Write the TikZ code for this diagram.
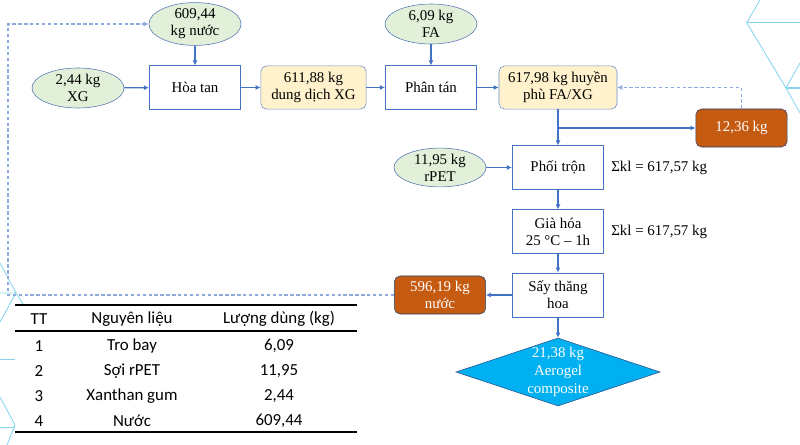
\documentclass[tikz,border=0pt]{standalone}
\usepackage{fontspec}
\setmainfont{Liberation Serif}
\newfontfamily\tablefont{Carlito}
\usetikzlibrary{arrows.meta,shapes.geometric,calc,positioning}
\definecolor{lineblue}{HTML}{4472C4}
\definecolor{dashblue}{HTML}{8FAADC}
\definecolor{greenfill}{HTML}{E2F0D9}
\definecolor{yellowfill}{HTML}{FFF2CC}
\definecolor{wasteorange}{HTML}{C55A11}
\definecolor{productcyan}{HTML}{00B0F0}
\definecolor{decocyan}{HTML}{86D4F0}

\begin{document}
\begin{tikzpicture}[x=0.025cm, y=-0.025cm, font=\fontsize{10.6}{12.2}\selectfont]
    \useasboundingbox (0,0) rectangle (800,445);
    \tikzset{InputStyle/.style = {ellipse, draw=lineblue!75!gray, fill=greenfill,
        minimum width=2.3cm, minimum height=1cm, inner sep=0pt, align=center},
      StepStyle/.style = {rectangle, draw=lineblue, fill=white, line width=0.6pt,
        minimum width=2.28cm, minimum height=1.08cm, inner sep=1pt, align=center},
      MixStyle/.style = {rectangle, rounded corners=4pt, draw=lineblue!80, fill=yellowfill,
        minimum height=1.08cm, inner sep=1pt, align=center},
      WasteStyle/.style = {rectangle, rounded corners=4pt, draw=lineblue!60!black, fill=wasteorange,
        text=white, minimum width=2.28cm, minimum height=0.95cm, inner sep=1pt, align=center},
      ProductStyle/.style = {diamond, draw=lineblue!70!black, fill=productcyan,
        minimum width=5.1cm, minimum height=1.7cm, inner sep=0pt},
      FlowStyle/.style = {draw=lineblue, line width=0.8pt, -{Latex[length=3.6pt,width=3.6pt]}},
      RecycleStyle/.style = {draw=dashblue, line width=0.8pt, dash pattern=on 2.4pt off 1.8pt,
        -{Latex[length=3.6pt,width=3.6pt]}},
      CellStyle/.style = {font=\tablefont\fontsize{12}{14}\selectfont, inner sep=0pt},
      DecoStyle/.style = {draw=decocyan, line width=0.6pt}}
    % background lines of the slide
    \draw[DecoStyle] (760,0) -- (746.7,22.7) -- (786,88) -- (800,113);
    \draw[DecoStyle] (746.7,22.7) -- (800,22.7);
    \draw[DecoStyle] (786,88) -- (800,63);
    \draw[DecoStyle, line width=1pt] (786,88) -- (800,88);
    \draw[DecoStyle] (0,263) -- (16,293) -- (23,304);
    \draw[DecoStyle] (0,293) -- (16,293) -- (0,322);
    \draw[DecoStyle] (0,359) -- (15,359);
    \draw[DecoStyle] (0,397) -- (15,425) -- (7,445);
    \draw[DecoStyle] (0,427) -- (15,427);
    % inputs and steps
    \node[InputStyle] (nuoc) at (195,24) {609,44\\kg nước};
    \node[InputStyle] (xg) at (78,88) {2,44 kg\\XG};
    \node[StepStyle] (hoatan) at (195,87.5) {Hòa tan};
    \node[MixStyle, minimum width=2.63cm] (ddxg) at (313.5,87.5) {611,88 kg\\dung dịch XG};
    \node[InputStyle] (fa) at (431,24) {6,09 kg\\FA};
    \node[StepStyle] (phantan) at (431,87.5) {Phân tán};
    \node[MixStyle, minimum width=2.95cm] (huyenphu) at (558,87.5) {617,98 kg huyền\\phù FA/XG};
    \node[WasteStyle] (hao) at (741.5,128) {12,36 kg};
    \node[InputStyle, minimum height=0.95cm] (rpet) at (440,167.5) {11,95 kg\\rPET};
    \node[StepStyle] (phoitron) at (558,167.5) {Phối trộn};
    \node[StepStyle] (giahoa) at (558,231.5) {Già hóa\\25 °C – 1h};
    \node[StepStyle, minimum height=1.1cm] (saythang) at (558,295) {Sấy thăng\\hoa};
    \node[WasteStyle] (nuocthai) at (440,295) {596,19 kg\\nước};
    \node[ProductStyle, label={[text=white, align=center, font=\fontsize{10.6}{12.6}\selectfont]center:{21,38 kg\\Aerogel\\composite}}] (aerogel) at (558,372) {};
    \node[anchor=west, inner sep=0pt] (sum1) at (611,168) {Σkl = 617,57 kg};
    \node[anchor=west, inner sep=0pt] (sum2) at (611,232) {Σkl = 617,57 kg};
    \coordinate (goc) at (8,295);
    % flows
    \draw[FlowStyle] (xg) -- (hoatan);
    \draw[FlowStyle] (nuoc) -- (hoatan);
    \draw[FlowStyle] (hoatan) -- (ddxg);
    \draw[FlowStyle] (ddxg) -- (phantan);
    \draw[FlowStyle] (fa) -- (phantan);
    \draw[FlowStyle] (phantan) -- (huyenphu);
    \draw[FlowStyle] (huyenphu) -- (phoitron);
    \draw[FlowStyle] (huyenphu.south |- hao.west) -- (hao.west);
    \draw[RecycleStyle] (hao.north) |- (huyenphu.east);
    \draw[FlowStyle] (rpet) -- (phoitron);
    \draw[FlowStyle] (phoitron) -- (giahoa);
    \draw[FlowStyle] (giahoa) -- (saythang);
    \draw[FlowStyle] (saythang) -- (nuocthai);
    \draw[FlowStyle] (saythang) -- (aerogel.north);
    \draw[RecycleStyle] (nuocthai.west) -- (goc) |- (nuoc.west);
    % table of materials
    \draw[line width=1pt] (15,305) -- (357,305);
    \draw[line width=1pt] (15,331) -- (357,331);
    \draw[line width=1pt] (15,432) -- (357,432);
    \node[CellStyle] (head1) at (39,319) {TT};
    \node[CellStyle] (head2) at (132,319) {Nguyên liệu};
    \node[CellStyle] (head3) at (279,319) {Lượng dùng (kg)};
    \foreach \rowno/\matname/\amount in {1/Tro bay/{6,09}, 2/Sợi rPET/{11,95}, 3/Xanthan gum/{2,44}, 4/Nước/{609,44}}
    {
      \node[CellStyle] (tt\rowno) at (39,{321+25*\rowno}) {\rowno};
      \node[CellStyle] (ten\rowno) at (132,{321+25*\rowno}) {\matname};
      \node[CellStyle] (kl\rowno) at (279,{321+25*\rowno}) {\amount};
    }
\end{tikzpicture}
\end{document}
